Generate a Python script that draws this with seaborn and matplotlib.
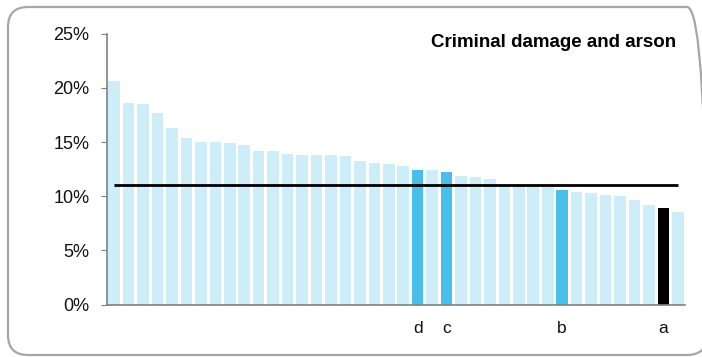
import matplotlib
matplotlib.use("Agg")
import matplotlib.pyplot as plt
import seaborn as sns
import pandas as pd
from matplotlib.patches import FancyBboxPatch

values = [20.6, 18.6, 18.5, 17.7, 16.3, 15.35, 15.05, 15.05, 14.9, 14.75,
          14.2, 14.2, 13.9, 13.85, 13.8, 13.8, 13.75, 13.3, 13.1, 13.0,
          12.75, 12.4, 12.4, 12.25, 11.9, 11.8, 11.55, 10.95, 10.95, 10.9,
          10.85, 10.6, 10.4, 10.35, 10.15, 10.05, 9.7, 9.2, 8.95, 8.55]
labels = [""] * 40
labels[21] = "d"
labels[23] = "c"
labels[31] = "b"
labels[38] = "a"
highlight = {"d": "mid", "c": "mid", "b": "mid", "a": "dark"}
average = 11.05
yticks = [0, 5, 10, 15, 20, 25]
title = "Criminal damage and arson"

df = pd.DataFrame({
    "pos": [str(i) for i in range(len(values))],
    "value": values,
    "group": [highlight.get(l, "light") for l in labels],
})
palette = {"light": "#CDEDF9", "mid": "#48BFEA", "dark": "#000000"}

plt.rcParams["font.family"] = ["Liberation Sans", "DejaVu Sans"]
fig = plt.figure(figsize=(7.02, 3.57), dpi=100)
ax = fig.add_axes([0.1524, 0.1465, 0.8234, 0.7591])

sns.barplot(data=df, x="pos", y="value", hue="group", palette=palette,
            dodge=False, legend=False, width=0.8, saturation=1, ax=ax,
            linewidth=0)
ax.hlines(average, 0, len(values) - 1, color="black", linewidth=2, zorder=5)

ax.set_xlim(-0.5, len(values) - 0.5)
ax.set_ylim(0, 25)
ax.set_yticks(yticks)
ax.set_yticklabels([f"{t}%" for t in yticks], fontsize=13, color="#111111")
ax.set_xticks(range(len(values)))
ax.set_xticklabels(labels, fontsize=12.5, color="#111111")
ax.tick_params(axis="x", length=0, pad=12)
ax.tick_params(axis="y", length=4.5, color="#808080", pad=8)
ax.set_xlabel("")
ax.set_ylabel("")
for s in ["top", "right"]:
    ax.spines[s].set_visible(False)
for s in ["left", "bottom"]:
    ax.spines[s].set_color("#808080")
    ax.spines[s].set_linewidth(1.2)

ax.text(0.985, 1.0, title, transform=ax.transAxes, ha="right", va="top",
        fontsize=13.5, fontweight="bold")

border = FancyBboxPatch((0.08, 0.02), 6.99, 3.48,
                        boxstyle="round,pad=0,rounding_size=0.2",
                        transform=fig.dpi_scale_trans, fill=False,
                        edgecolor="#A6A6A6", linewidth=1.6)
fig.patches.append(border)

fig.savefig("out.png", dpi=100)
